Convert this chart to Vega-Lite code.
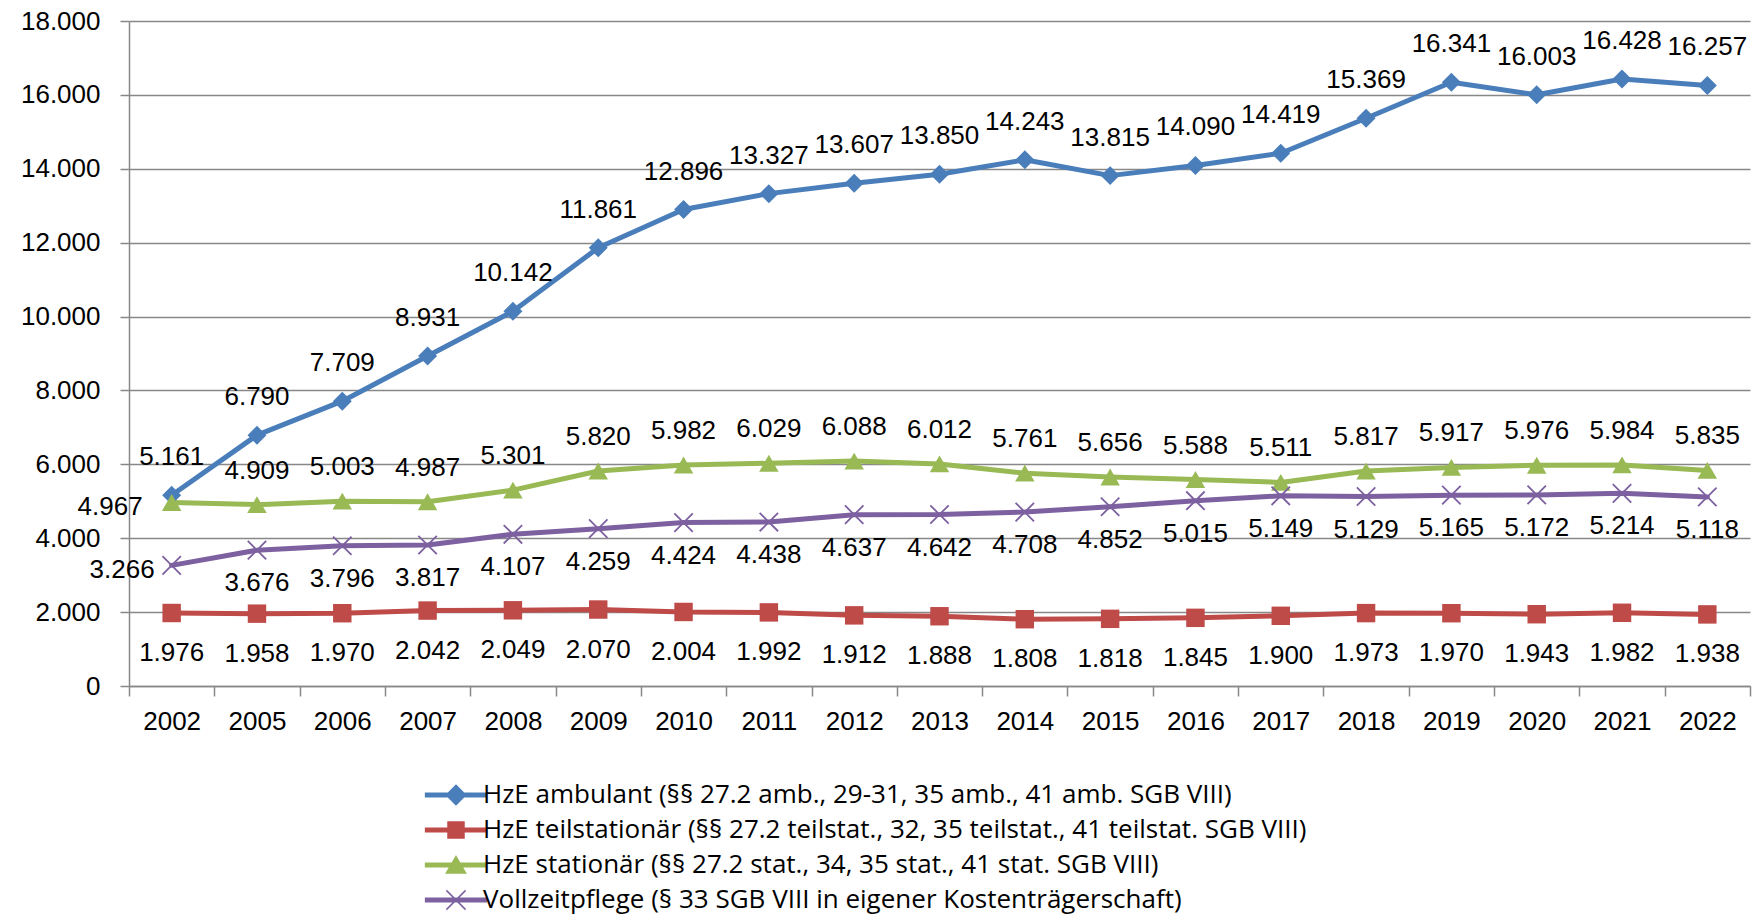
{
  "$schema": "https://vega.github.io/schema/vega-lite/v6.json",
  "width": 1621,
  "height": 665,
  "autosize": {"type": "none"},
  "padding": {"left": 129, "top": 21, "right": 4, "bottom": 230},
  "config": {
    "view": {"stroke": null},
    "locale": {"number": {"decimal": ",", "thousands": ".", "grouping": [3], "currency": ["", " €"]}},
    "axis": {
      "labelFont": "Liberation Sans", "labelFontSize": 26, "labelColor": "#000",
      "domainColor": "#888", "tickColor": "#888", "gridColor": "#888",
      "domainWidth": 1.5, "tickWidth": 1.5, "gridWidth": 1.5, "title": null
    },
    "text": {"font": "Liberation Sans", "fontSize": 26, "color": "#000"}
  },
  "data": {"values": [
    {"year": "2002", "s": "amb", "v": 5161}, {"year": "2005", "s": "amb", "v": 6790}, {"year": "2006", "s": "amb", "v": 7709}, {"year": "2007", "s": "amb", "v": 8931}, {"year": "2008", "s": "amb", "v": 10142}, {"year": "2009", "s": "amb", "v": 11861}, {"year": "2010", "s": "amb", "v": 12896}, {"year": "2011", "s": "amb", "v": 13327}, {"year": "2012", "s": "amb", "v": 13607}, {"year": "2013", "s": "amb", "v": 13850}, {"year": "2014", "s": "amb", "v": 14243}, {"year": "2015", "s": "amb", "v": 13815}, {"year": "2016", "s": "amb", "v": 14090}, {"year": "2017", "s": "amb", "v": 14419}, {"year": "2018", "s": "amb", "v": 15369}, {"year": "2019", "s": "amb", "v": 16341}, {"year": "2020", "s": "amb", "v": 16003}, {"year": "2021", "s": "amb", "v": 16428}, {"year": "2022", "s": "amb", "v": 16257},
    {"year": "2002", "s": "teil", "v": 1976}, {"year": "2005", "s": "teil", "v": 1958}, {"year": "2006", "s": "teil", "v": 1970}, {"year": "2007", "s": "teil", "v": 2042}, {"year": "2008", "s": "teil", "v": 2049}, {"year": "2009", "s": "teil", "v": 2070}, {"year": "2010", "s": "teil", "v": 2004}, {"year": "2011", "s": "teil", "v": 1992}, {"year": "2012", "s": "teil", "v": 1912}, {"year": "2013", "s": "teil", "v": 1888}, {"year": "2014", "s": "teil", "v": 1808}, {"year": "2015", "s": "teil", "v": 1818}, {"year": "2016", "s": "teil", "v": 1845}, {"year": "2017", "s": "teil", "v": 1900}, {"year": "2018", "s": "teil", "v": 1973}, {"year": "2019", "s": "teil", "v": 1970}, {"year": "2020", "s": "teil", "v": 1943}, {"year": "2021", "s": "teil", "v": 1982}, {"year": "2022", "s": "teil", "v": 1938},
    {"year": "2002", "s": "stat", "v": 4967}, {"year": "2005", "s": "stat", "v": 4909}, {"year": "2006", "s": "stat", "v": 5003}, {"year": "2007", "s": "stat", "v": 4987}, {"year": "2008", "s": "stat", "v": 5301}, {"year": "2009", "s": "stat", "v": 5820}, {"year": "2010", "s": "stat", "v": 5982}, {"year": "2011", "s": "stat", "v": 6029}, {"year": "2012", "s": "stat", "v": 6088}, {"year": "2013", "s": "stat", "v": 6012}, {"year": "2014", "s": "stat", "v": 5761}, {"year": "2015", "s": "stat", "v": 5656}, {"year": "2016", "s": "stat", "v": 5588}, {"year": "2017", "s": "stat", "v": 5511}, {"year": "2018", "s": "stat", "v": 5817}, {"year": "2019", "s": "stat", "v": 5917}, {"year": "2020", "s": "stat", "v": 5976}, {"year": "2021", "s": "stat", "v": 5984}, {"year": "2022", "s": "stat", "v": 5835},
    {"year": "2002", "s": "voll", "v": 3266}, {"year": "2005", "s": "voll", "v": 3676}, {"year": "2006", "s": "voll", "v": 3796}, {"year": "2007", "s": "voll", "v": 3817}, {"year": "2008", "s": "voll", "v": 4107}, {"year": "2009", "s": "voll", "v": 4259}, {"year": "2010", "s": "voll", "v": 4424}, {"year": "2011", "s": "voll", "v": 4438}, {"year": "2012", "s": "voll", "v": 4637}, {"year": "2013", "s": "voll", "v": 4642}, {"year": "2014", "s": "voll", "v": 4708}, {"year": "2015", "s": "voll", "v": 4852}, {"year": "2016", "s": "voll", "v": 5015}, {"year": "2017", "s": "voll", "v": 5149}, {"year": "2018", "s": "voll", "v": 5129}, {"year": "2019", "s": "voll", "v": 5165}, {"year": "2020", "s": "voll", "v": 5172}, {"year": "2021", "s": "voll", "v": 5214}, {"year": "2022", "s": "voll", "v": 5118}
  ]},
  "encoding": {
    "x": {
      "field": "year", "type": "ordinal",
      "scale": {"type": "band", "paddingInner": 0, "paddingOuter": 0},
      "axis": {"labelAngle": 0, "tickBand": "extent", "tickSize": 10, "labelPadding": 12, "grid": false}
    },
    "y": {
      "field": "v", "type": "quantitative",
      "scale": {"domain": [0, 18000], "nice": false},
      "axis": {"values": [0, 2000, 4000, 6000, 8000, 10000, 12000, 14000, 16000, 18000], "format": ",.0f", "tickSize": 9, "labelPadding": 20, "grid": true}
    }
  },
  "layer": [
    {
      "mark": {"type": "line", "strokeWidth": 5, "strokeJoin": "round", "strokeCap": "round"},
      "encoding": {
        "color": {
          "field": "s", "type": "nominal",
          "scale": {"domain": ["amb", "teil", "stat", "voll"], "range": ["#4A7EBB", "#BE4B48", "#98B954", "#7D60A0"]},
          "legend": {
            "orient": "none", "legendX": 314, "legendY": 761, "direction": "vertical", "title": null,
            "symbolSize": 256, "symbolStrokeWidth": 1.5, "labelOffset": 14, "padding": 0,
            "labelFont": "Open Sans", "labelFontSize": 26, "labelColor": "#000", "rowPadding": 9, "labelLimit": 0,
            "labelExpr": "['HzE ambulant (§§ 27.2 amb., 29-31, 35 amb., 41 amb. SGB VIII)', 'HzE teilstationär (§§ 27.2 teilstat., 32, 35 teilstat., 41 teilstat. SGB VIII)', 'HzE stationär (§§ 27.2 stat., 34, 35 stat., 41 stat. SGB VIII)', 'Vollzeitpflege (§ 33 SGB VIII in eigener Kostenträgerschaft)'][indexof(['amb','teil','stat','voll'], datum.value)]",
            "encode": {
              "symbols": {
                "update": {
                  "shape": {"signal": "['M-3.8,-0.22H3.8V0.22H-3.8Z M0,-1.2L1.2,0L0,1.2L-1.2,0Z', 'M-3.8,-0.22H3.8V0.22H-3.8Z M-1,-1H1V1H-1Z', 'M-3.8,-0.22H3.8V0.22H-3.8Z M0,-1.05L1.2,1L-1.2,1Z', 'M-3.8,-0.22H3.8V0.22H-3.8Z M-1.2,-1.2L1.2,1.2M-1.2,1.2L1.2,-1.2'][indexof(['amb','teil','stat','voll'], datum.value)]"},
                  "fill": {"signal": "scale('color', datum.value)"},
                  "stroke": {"signal": "scale('color', datum.value)"},
                  "strokeWidth": {"value": 1.5},
                  "opacity": {"value": 1},
                  "fillOpacity": {"value": 1},
                  "strokeOpacity": {"value": 1}
                }
              }
            }
          }
        }
      }
    },
    {
      "transform": [{"filter": "datum.s === 'amb'"}],
      "mark": {"type": "point", "shape": "diamond", "filled": true, "size": 360, "opacity": 1},
      "encoding": {"color": {"field": "s", "type": "nominal"}}
    },
    {
      "transform": [{"filter": "datum.s === 'teil'"}],
      "mark": {"type": "point", "shape": "square", "filled": true, "size": 340, "opacity": 1},
      "encoding": {"color": {"field": "s", "type": "nominal"}}
    },
    {
      "transform": [{"filter": "datum.s === 'stat'"}],
      "mark": {"type": "point", "shape": "triangle-up", "filled": true, "size": 380, "opacity": 1},
      "encoding": {"color": {"field": "s", "type": "nominal"}}
    },
    {
      "transform": [{"filter": "datum.s === 'voll'"}],
      "mark": {"type": "point", "shape": "M-1,-1L1,1M-1,1L1,-1", "filled": false, "size": 340, "strokeWidth": 1.8, "opacity": 1},
      "encoding": {"color": {"field": "s", "type": "nominal"}}
    },
    {
      "transform": [{"filter": "datum.s === 'amb'"}],
      "mark": {"type": "text", "dy": -38},
      "encoding": {"text": {"field": "v", "type": "quantitative", "format": ","}}
    },
    {
      "transform": [{"filter": "datum.s === 'teil'"}],
      "mark": {"type": "text", "dy": 40},
      "encoding": {"text": {"field": "v", "type": "quantitative", "format": ","}}
    },
    {
      "transform": [{"filter": "datum.s === 'stat' && datum.year !== '2002'"}],
      "mark": {"type": "text", "dy": -34},
      "encoding": {"text": {"field": "v", "type": "quantitative", "format": ","}}
    },
    {
      "transform": [{"filter": "datum.s === 'voll' && datum.year !== '2002'"}],
      "mark": {"type": "text", "dy": 33},
      "encoding": {"text": {"field": "v", "type": "quantitative", "format": ","}}
    },
    {
      "transform": [{"filter": "datum.s === 'stat' && datum.year === '2002'"}],
      "mark": {"type": "text", "align": "right", "dx": -29, "dy": 5},
      "encoding": {"text": {"field": "v", "type": "quantitative", "format": ","}}
    },
    {
      "transform": [{"filter": "datum.s === 'voll' && datum.year === '2002'"}],
      "mark": {"type": "text", "align": "right", "dx": -17, "dy": 5},
      "encoding": {"text": {"field": "v", "type": "quantitative", "format": ","}}
    }
  ]
}
